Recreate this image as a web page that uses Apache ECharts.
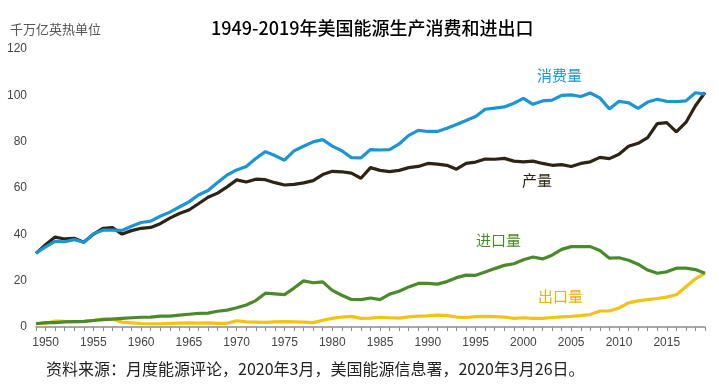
<!DOCTYPE html>
<html>
<head>
<meta charset="utf-8">
<script src="https://cdn.jsdelivr.net/npm/echarts@6/dist/echarts.min.js"></script>
<style>
html,body{margin:0;padding:0;background:#fff;}
#c{width:719px;height:389px;}
</style>
</head>
<body>
<div id="c"></div>
<script>
const years = [];
for (let y = 1949; y <= 2019; y++) years.push(String(y));

const consumption = [31.9, 34.6, 37.0, 36.8, 37.7, 36.6, 40.2, 41.8, 41.8, 41.7,
  43.5, 45.1, 45.7, 47.8, 49.6, 51.8, 54.0, 57.0, 58.9, 62.4,
  65.6, 67.8, 69.3, 72.7, 75.7, 74.0, 72.0, 76.0, 78.0, 79.9,
  80.9, 78.1, 76.1, 73.1, 73.0, 76.6, 76.4, 76.6, 79.0, 82.7,
  84.9, 84.4, 84.4, 85.8, 87.4, 89.1, 90.9, 94.0, 94.5, 95.0,
  96.6, 98.7, 96.1, 97.6, 97.9, 100.0, 100.2, 99.5, 101.0, 98.9,
  94.1, 97.4, 96.8, 94.4, 97.1, 98.3, 97.4, 97.3, 97.6, 101.1,
  100.5];

const production = [31.8, 35.5, 38.8, 38.0, 38.3, 36.6, 40.0, 42.6, 42.9, 40.1,
  41.6, 42.6, 43.0, 44.6, 47.0, 49.0, 50.5, 53.2, 56.0, 57.8,
  60.5, 63.5, 62.6, 63.8, 63.6, 62.3, 61.3, 61.6, 62.2, 63.2,
  65.8, 67.2, 67.0, 66.4, 64.2, 68.8, 67.6, 67.1, 67.6, 68.8,
  69.3, 70.6, 70.3, 69.8, 68.1, 70.6, 71.2, 72.5, 72.4, 72.8,
  71.6, 71.3, 71.6, 70.6, 69.8, 70.1, 69.3, 70.6, 71.3, 73.2,
  72.7, 74.6, 78.0, 79.3, 81.7, 87.8, 88.2, 84.2, 88.3, 95.5,
  101.2];

const imports = [1.4, 1.9, 1.9, 2.2, 2.3, 2.4, 2.8, 3.2, 3.4, 3.7,
  4.0, 4.2, 4.3, 4.7, 4.7, 5.1, 5.5, 5.9, 6.0, 6.8,
  7.3, 8.3, 9.5, 11.4, 14.6, 14.3, 14.0, 16.8, 19.9, 19.1,
  19.5, 15.8, 13.7, 11.9, 11.8, 12.5, 11.8, 14.2, 15.4, 17.3,
  18.8, 18.8, 18.5, 19.6, 21.3, 22.4, 22.3, 23.7, 25.2, 26.6,
  27.3, 29.0, 30.2, 29.4, 31.0, 33.5, 34.7, 34.7, 34.7, 33.0,
  29.7, 29.9, 28.8, 27.1, 24.6, 23.2, 23.8, 25.4, 25.4, 24.8,
  23.2];

const exportsData = [1.6, 1.5, 2.6, 2.4, 2.3, 2.3, 2.8, 3.4, 3.5, 2.1,
  1.8, 1.5, 1.4, 1.4, 1.6, 1.7, 1.8, 1.7, 1.8, 1.6,
  1.6, 2.7, 2.2, 2.1, 2.0, 2.2, 2.3, 2.2, 2.1, 1.9,
  2.9, 3.7, 4.3, 4.6, 3.7, 3.8, 4.2, 4.0, 3.8, 4.4,
  4.7, 4.8, 5.1, 4.9, 4.3, 4.1, 4.5, 4.6, 4.5, 4.3,
  3.7, 4.0, 3.7, 3.7, 4.1, 4.4, 4.6, 4.9, 5.4, 6.9,
  6.9, 8.2, 10.4, 11.3, 11.8, 12.3, 12.9, 13.9, 17.4, 20.8,
  23.3];

const titleText = '1949-2019年美国能源生产消费和进出口';
const unitText = '千万亿英热单位';
const sourceText = '资料来源：月度能源评论，2020年3月，美国能源信息署，2020年3月26日。';
const seriesNames = ['消费量', '产量', '进口量', '出口量'];

const colors = ['#1b95d4', '#2e2414', '#4a8a2c', '#f3c212'];
const cjk = '"Noto Sans CJK SC", sans-serif';
const narrow = '"Liberation Sans Narrow", "Liberation Sans", sans-serif';

const chart = echarts.init(document.getElementById('c'), null, {renderer: 'canvas'});

function lineSeries(name, data, color) {
  return {
    name: name, type: 'line', data: data, symbol: 'none', smooth: false,
    lineStyle: {color: color, width: 3.2}, itemStyle: {color: color},
    animation: false
  };
}

chart.setOption({
  animation: false,
  backgroundColor: '#fff',
  grid: {left: 36, right: 14, top: 49, bottom: 62, containLabel: false},
  xAxis: {
    type: 'category', data: years, boundaryGap: false,
    axisLine: {lineStyle: {color: '#8c8c8c', width: 1.5}},
    axisTick: {show: true, interval: 0, length: 4, lineStyle: {color: '#8c8c8c'}},
    axisLabel: {
      interval: function (i, v) { return Number(v) % 5 === 0; },
      color: '#444', fontFamily: narrow, fontSize: 12, margin: 10
    },
    splitLine: {show: false}
  },
  yAxis: {
    type: 'value', min: 0, max: 120, interval: 20,
    axisLine: {show: false}, axisTick: {show: false}, splitLine: {show: false},
    axisLabel: {color: '#444', fontFamily: narrow, fontSize: 12, margin: 9}
  },
  series: [
    lineSeries(seriesNames[3], exportsData, colors[3]),
    lineSeries(seriesNames[2], imports, colors[2]),
    lineSeries(seriesNames[1], production, colors[1]),
    lineSeries(seriesNames[0], consumption, colors[0])
  ],
  graphic: [
    {type: 'text', left: 211, top: 19, style: {text: titleText, fill: '#000', font: '500 18px ' + cjk}},
    {type: 'text', left: 10, top: 23, style: {text: unitText, fill: '#555', font: '13px ' + cjk}},
    {type: 'text', left: 46, top: 361, style: {text: sourceText, fill: '#222', font: '16px ' + cjk}},
    {type: 'text', left: 537, top: 68, style: {text: seriesNames[0], fill: colors[0], font: '15px ' + cjk}},
    {type: 'text', left: 522, top: 173, style: {text: seriesNames[1], fill: colors[1], font: '15px ' + cjk}},
    {type: 'text', left: 476, top: 233, style: {text: seriesNames[2], fill: colors[2], font: '15px ' + cjk}},
    {type: 'text', left: 538, top: 289, style: {text: seriesNames[3], fill: '#e8b400', font: '15px ' + cjk}}
  ]
});
</script>
</body>
</html>
